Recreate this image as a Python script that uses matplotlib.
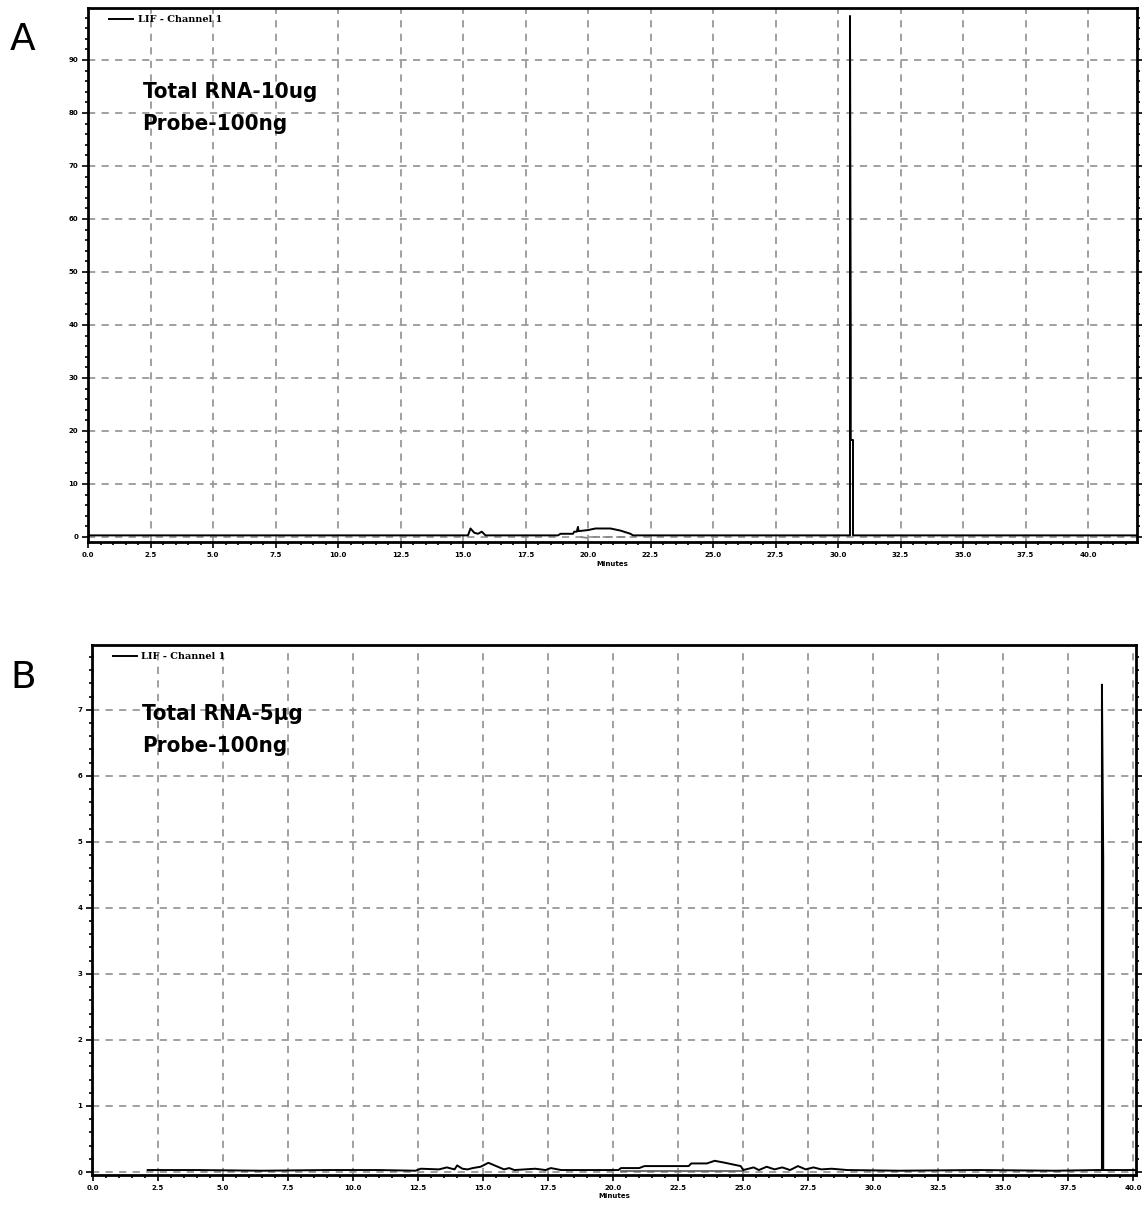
import matplotlib
matplotlib.use("Agg")
import matplotlib.pyplot as plt
from matplotlib.ticker import MultipleLocator, FormatStrFormatter
from matplotlib import font_manager

# panel A trace (minutes, signal)
a_x = [0.0, 15.2, 15.3, 15.45, 15.6, 15.75, 15.9, 18.8, 18.9, 19.4, 19.45, 19.55,
       19.6, 19.62, 20.0, 20.3, 20.9, 21.3, 21.7, 21.8,
       30.46, 30.48, 30.48, 30.51, 30.51, 30.60, 30.60, 42.0]
a_y = [0.3, 0.3, 1.6, 0.8, 0.6, 1.0, 0.3, 0.3, 0.6, 0.6, 1.0, 1.0,
       1.9, 1.1, 1.3, 1.6, 1.6, 1.2, 0.6, 0.3,
       0.3, 0.3, 98.3, 37.5, 18.3, 18.3, 0.3, 0.3]
a_base_x = [19.7, 20.0, 20.1, 21.5]
a_base_y = [0.0, -0.2, 0.0, 0.0]

# panel B trace
b_x = [2.1, 4.0, 6.5, 9.0, 11.0, 12.4, 12.6, 13.3, 13.6, 13.9, 14.0, 14.2, 14.4,
       14.6, 14.9, 15.2, 15.5, 15.8, 16.0, 16.2, 17.0, 17.4, 17.6, 18.0, 19.0,
       20.2, 20.3, 21.0, 21.2, 22.0, 22.9, 23.0, 23.6, 23.9, 24.3, 24.9, 25.0,
       25.4, 25.6, 25.9, 26.2, 26.5, 26.8, 27.1, 27.4, 27.7, 28.0, 28.4, 29.0,
       31.0, 34.0, 37.0, 38.6, 38.79, 38.79, 38.84, 38.84, 38.90, 39.2, 40.1]
b_y = [0.03, 0.03, 0.02, 0.03, 0.03, 0.02, 0.05, 0.04, 0.07, 0.04, 0.10, 0.05, 0.04,
       0.06, 0.08, 0.14, 0.09, 0.04, 0.06, 0.03, 0.05, 0.03, 0.06, 0.03, 0.03,
       0.03, 0.06, 0.06, 0.09, 0.09, 0.09, 0.13, 0.13, 0.17, 0.14, 0.09, 0.03,
       0.07, 0.03, 0.08, 0.04, 0.07, 0.03, 0.09, 0.04, 0.07, 0.04, 0.05, 0.03,
       0.02, 0.03, 0.02, 0.03, 0.03, 7.38, 4.73, 0.03, 0.03, 0.03, 0.03]
b_base_x = [20.3, 25.0]
b_base_y = [0.02, 0.02]

x_ticks_a = [i * 2.5 for i in range(17)]
y_ticks_a = [0, 10, 20, 30, 40, 50, 60, 70, 80, 90]
y_ticks_b = [0, 1, 2, 3, 4, 5, 6, 7]

installed = {f.name for f in font_manager.fontManager.ttflist}
narrow = [n for n in ["Liberation Sans Narrow", "DejaVu Sans Condensed"] if n in installed]
note_family = narrow + ["DejaVu Sans"]

W, H = 1142, 1208
fig = plt.figure(figsize=(W / 100, H / 100), dpi=100)
axA = fig.add_axes([88 / W, 1 - 542 / H, (1137 - 88) / W, (542 - 8) / H])
axB = fig.add_axes([92 / W, 1 - 1175 / H, (1136 - 92) / W, (1175 - 645) / H])


def style(ax, yt, ymin_step):
    ax.set_xticks(x_ticks_a)
    ax.xaxis.set_major_formatter(FormatStrFormatter("%.1f"))
    ax.xaxis.set_minor_locator(MultipleLocator(0.5))
    ax.set_yticks(yt)
    ax.yaxis.set_minor_locator(MultipleLocator(ymin_step))
    ax.grid(True, which="major", color="#999999", linestyle=(0, (4, 3.5)), linewidth=1.3)
    for s in ax.spines.values():
        s.set_linewidth(2.0)
    ax.tick_params(which="both", direction="out", width=1.2, labelsize=5,
                   right=True, pad=3)
    ax.tick_params(which="major", length=4)
    ax.tick_params(which="minor", length=2.5)
    for lab in ax.get_xticklabels() + ax.get_yticklabels():
        lab.set_fontweight("bold")
    ax.set_xlabel("Minutes", fontsize=5, fontweight="bold", labelpad=2)


def add_legend(ax):
    ax.legend(loc="upper left", bbox_to_anchor=(0.012, 1.003), frameon=False,
              handlelength=2.4, handletextpad=0.5,
              prop={"family": "DejaVu Serif", "size": 7, "weight": "bold"})


axA.plot(a_base_x, a_base_y, color="#888888", lw=1.3, ls=(0, (4, 3)))
axA.plot(a_x, a_y, color="black", lw=1.4, label="LIF - Channel 1")
axA.set_xlim(0, 41.96)
axA.set_ylim(-0.95, 99.8)
style(axA, y_ticks_a, 2)
add_legend(axA)
axA.text(0.052, 0.862, "Total RNA-10ug\nProbe-100ng", transform=axA.transAxes,
         fontsize=16, fontweight="bold", fontstretch="condensed", va="top",
         linespacing=1.75, family=note_family)

axB.plot(b_base_x, b_base_y, color="#555555", lw=1.2)
axB.plot(b_x, b_y, color="black", lw=1.4, label="LIF - Channel 1")
axB.set_xlim(-0.04, 40.1)
axB.set_ylim(-0.045, 7.98)
style(axB, y_ticks_b, 0.2)
add_legend(axB)
axB.text(0.048, 0.888, "Total RNA-5\u00b5g\nProbe-100ng", transform=axB.transAxes,
         fontsize=16, fontweight="bold", fontstretch="condensed", va="top",
         linespacing=1.75, family=note_family)

fig.text(10 / W, 1 - 50 / H, "A", fontsize=27, family="DejaVu Sans")
fig.text(10 / W, 1 - 688 / H, "B", fontsize=27, family="DejaVu Sans")

fig.savefig("out.png", dpi=100)
